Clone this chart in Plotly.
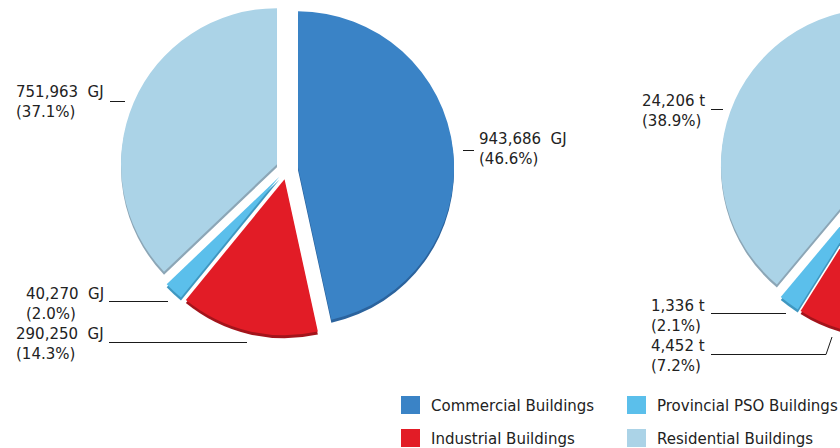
import plotly.graph_objects as go

# ---- data -------------------------------------------------------------
categories = ["Commercial Buildings", "Industrial Buildings",
              "Provincial PSO Buildings", "Residential Buildings"]
energy_gj = [943686, 290250, 40270, 751963]
emissions_t = [32210, 4452, 1336, 24206]

# ---- styling ----------------------------------------------------------
colors = ["#3a83c6", "#e21c26", "#5bbfeb", "#abd3e7"]
depth_colors = ["#2b639d", "#a3141b", "#3f97c0", "#8ca6b6"]
FONT = "DejaVu Sans"
TEXT = "#222222"

W, H = 1080, 448          # canvas wider than the window; right pie runs off the edge
R = 156                   # pie radius in px
PULL = 0.0705             # slice explosion (fraction of radius)
DEPTH = 3                 # px offset of the darker rim underneath


def px(x):
    return x / W


def py(y):
    return 1 - y / H


def domain(cx, cy, dy=0):
    half = R * (1 + PULL)
    return dict(x=[px(cx - half), px(cx + half)],
                y=[py(cy + half + dy), py(cy - half + dy)])


centers = [(287.1, 168.5), (887.3, 168.5)]
series = [energy_gj, emissions_t]

fig = go.Figure()
for (cx, cy), vals in zip(centers, series):
    common = dict(labels=categories, values=vals, sort=False,
                  direction="clockwise", rotation=0, pull=[PULL] * 4,
                  textinfo="none", showlegend=False)
    # darker copy underneath gives the extruded rim
    fig.add_trace(go.Pie(**common, domain=domain(cx, cy, DEPTH),
                         marker=dict(colors=depth_colors, line=dict(width=0)),
                         hoverinfo="skip"))
    fig.add_trace(go.Pie(**common, domain=domain(cx, cy),
                         marker=dict(colors=colors, line=dict(width=0))))


def label_text(vals, i, unit):
    pct = vals[i] / sum(vals) * 100
    if unit == "GJ":
        head = f"{vals[i]:,}\u00a0 GJ"
    else:
        head = f"{vals[i]:,} t"
    return f"{head}<br>({pct:.1f}%)"


# (series, category, unit, text anchor x, anchor side, text centre y, leader path points)
callouts = [
    (0, 3, "GJ", 106, "right", 102, [(110, 101.5), (125, 101.5)]),
    (0, 0, "GJ", 477, "left", 149, [(463, 150.5), (474, 150.5)]),
    (0, 2, "GJ", 106, "right", 304, [(109, 301.5), (168, 301.5)]),
    (0, 1, "GJ", 106, "right", 344, [(109, 342.5), (247, 342.5)]),
    (1, 3, "t", 707, "right", 111, [(711, 109.5), (723, 109.5)]),
    (1, 2, "t", 707, "right", 316, [(711, 313.5), (786, 313.5)]),
    (1, 1, "t", 707, "right", 356, [(711, 354.5), (826, 354.5), (832, 337)]),
]

annotations = []
shapes = []
for s, i, unit, ax, side, ay, pts in callouts:
    annotations.append(dict(
        x=px(ax), y=py(ay), xref="paper", yref="paper",
        xanchor=side, yanchor="middle", align="left", showarrow=False,
        text=label_text(series[s], i, unit),
        font=dict(family=FONT, size=15, color=TEXT)))
    path = "M " + " L ".join(f"{px(x)},{py(y)}" for x, y in pts)
    shapes.append(dict(type="path", xref="paper", yref="paper", path=path,
                       line=dict(color="#1a1a1a", width=1)))

# legend: two columns, two rows
legend_slots = [(401, 396), (401, 429), (627, 396), (627, 429)]
for (lx, ly), name, col in zip(legend_slots, categories, colors):
    shapes.append(dict(type="rect", xref="paper", yref="paper",
                       x0=px(lx), x1=px(lx + 19), y0=py(ly + 18), y1=py(ly),
                       fillcolor=col, line=dict(width=0)))
    annotations.append(dict(x=px(lx + 28), y=py(ly + 10), xref="paper",
                            yref="paper", xanchor="left", yanchor="middle",
                            showarrow=False, text=name,
                            font=dict(family=FONT, size=15, color=TEXT)))

fig.update_layout(
    width=W, height=H,
    margin=dict(l=0, r=0, t=0, b=0),
    paper_bgcolor="white", plot_bgcolor="white",
    showlegend=False,
    annotations=annotations, shapes=shapes,
)

fig.write_html(
    "out.html",
    post_script="document.body.style.margin='0';"
                "document.body.style.overflow='hidden';"
                "document.documentElement.style.overflow='hidden';",
)
